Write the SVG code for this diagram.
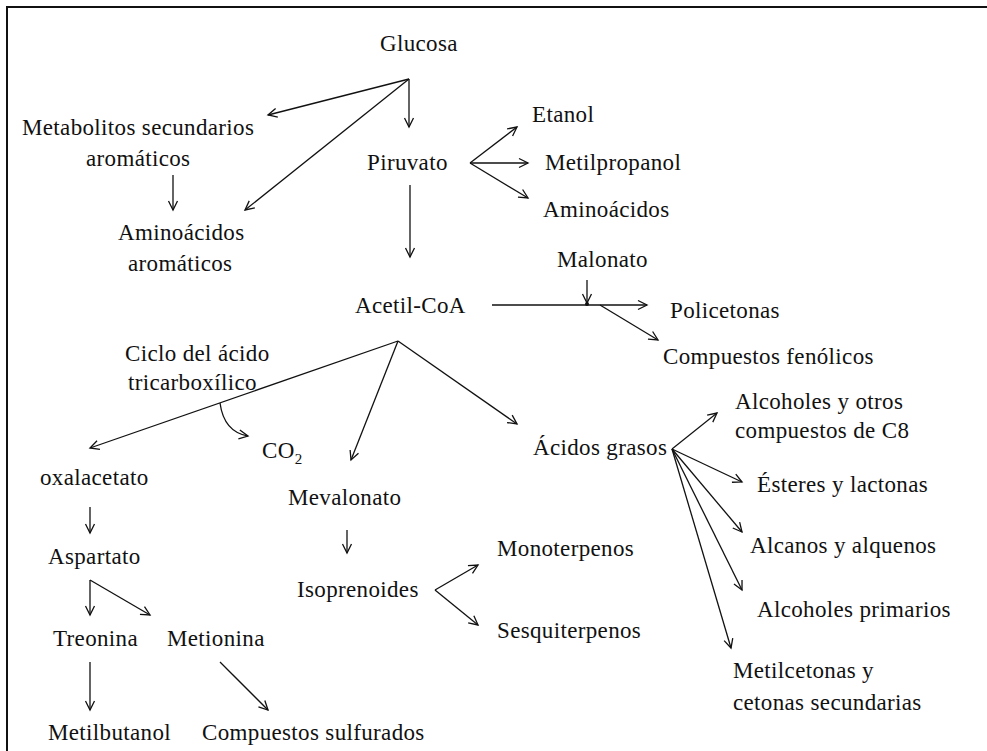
<svg xmlns="http://www.w3.org/2000/svg" width="987" height="751" viewBox="0 0 987 751">
<defs>
<style>
text{font-family:"Liberation Serif","Times New Roman",serif;font-size:23px;fill:#111;letter-spacing:0.35px}
.c line,.c path{stroke:#111;stroke-width:1.3;fill:none;marker-end:url(#ah)}
</style>
<marker id="ah" markerUnits="userSpaceOnUse" markerWidth="14" markerHeight="14" viewBox="-12 -6 14 12" refX="0" refY="0" orient="auto">
<path d="M-9,-4.5 L0,0 L-9,4.5" fill="none" stroke="#111" stroke-width="1.3"/>
</marker>
</defs>
<rect width="987" height="751" fill="#fff"/>
<path d="M7,751 V7 H987" fill="none" stroke="#111" stroke-width="2"/>
<g id="n-glucosa"><text x="380" y="51">Glucosa</text></g>
<g id="n-metabolitos"><text x="22" y="135">Metabolitos secundarios</text><text x="86" y="166">aromáticos</text></g>
<g id="n-aminoaromaticos"><text x="118" y="240">Aminoácidos</text><text x="128" y="271">aromáticos</text></g>
<g id="n-piruvato"><text x="367" y="170">Piruvato</text></g>
<g id="n-etanol"><text x="532" y="122">Etanol</text></g>
<g id="n-metilpropanol"><text x="545" y="170">Metilpropanol</text></g>
<g id="n-aminoacidos"><text x="543" y="217">Aminoácidos</text></g>
<g id="n-malonato"><text x="557" y="267">Malonato</text></g>
<g id="n-acetilcoa"><text x="355" y="313">Acetil-CoA</text></g>
<g id="n-policetonas"><text x="670" y="318">Policetonas</text></g>
<g id="n-fenolicos"><text x="663" y="364">Compuestos fenólicos</text></g>
<g id="n-ciclo"><text x="125" y="361">Ciclo del ácido</text><text x="128" y="390">tricarboxílico</text></g>
<g id="n-co2"><text x="262" y="458">CO<tspan font-size="15" dy="6">2</tspan></text></g>
<g id="n-oxalacetato"><text x="40" y="485">oxalacetato</text></g>
<g id="n-mevalonato"><text x="288" y="505">Mevalonato</text></g>
<g id="n-acidosgrasos"><text x="533" y="455">Ácidos grasos</text></g>
<g id="n-alcoholesotros"><text x="735" y="409">Alcoholes y otros</text><text x="735" y="438">compuestos de C8</text></g>
<g id="n-esteres"><text x="757" y="492">Ésteres y lactonas</text></g>
<g id="n-alcanos"><text x="750" y="553">Alcanos y alquenos</text></g>
<g id="n-alcoholesprim"><text x="757" y="617">Alcoholes primarios</text></g>
<g id="n-metilcetonas"><text x="733" y="678">Metilcetonas y</text><text x="733" y="710">cetonas secundarias</text></g>
<g id="n-aspartato"><text x="48" y="564">Aspartato</text></g>
<g id="n-isoprenoides"><text x="297" y="597">Isoprenoides</text></g>
<g id="n-monoterpenos"><text x="497" y="556">Monoterpenos</text></g>
<g id="n-sesquiterpenos"><text x="497" y="638">Sesquiterpenos</text></g>
<g id="n-treonina"><text x="53" y="646">Treonina</text></g>
<g id="n-metionina"><text x="167" y="646">Metionina</text></g>
<g id="n-metilbutanol"><text x="48" y="740">Metilbutanol</text></g>
<g id="n-sulfurados"><text x="202" y="740">Compuestos sulfurados</text></g>
<g id="connectors" class="c">
<line x1="409" y1="79" x2="268" y2="115"/>
<line x1="409" y1="79" x2="245" y2="210"/>
<line x1="409" y1="79" x2="409" y2="127"/>
<line x1="173" y1="175" x2="173" y2="210"/>
<line x1="470" y1="163" x2="517" y2="127"/>
<line x1="470" y1="163" x2="528" y2="163"/>
<line x1="470" y1="163" x2="528" y2="198"/>
<line x1="410" y1="185" x2="410" y2="257"/>
<line x1="492" y1="305" x2="647" y2="305"/>
<line x1="587" y1="280" x2="587" y2="303"/>
<line x1="600" y1="305" x2="658" y2="340"/>
<line x1="398" y1="341" x2="90" y2="448"/>
<line x1="398" y1="341" x2="351" y2="460"/>
<line x1="398" y1="341" x2="517" y2="424"/>
<path d="M220,403 Q224,432 248,436"/>
<line x1="90" y1="507" x2="90" y2="533"/>
<line x1="90" y1="580" x2="90" y2="615"/>
<line x1="90" y1="580" x2="150" y2="615"/>
<line x1="90" y1="662" x2="90" y2="710"/>
<line x1="220" y1="662" x2="268" y2="710"/>
<line x1="347" y1="530" x2="347" y2="553"/>
<line x1="435" y1="590" x2="478" y2="565"/>
<line x1="435" y1="590" x2="478" y2="625"/>
<line x1="672" y1="449" x2="717" y2="413"/>
<line x1="672" y1="449" x2="742" y2="482"/>
<line x1="672" y1="449" x2="742" y2="532"/>
<line x1="672" y1="449" x2="742" y2="590"/>
<line x1="672" y1="449" x2="731" y2="648"/>
<circle cx="587" cy="304" r="2" fill="#111" stroke="none"/>
</g>
</svg>
